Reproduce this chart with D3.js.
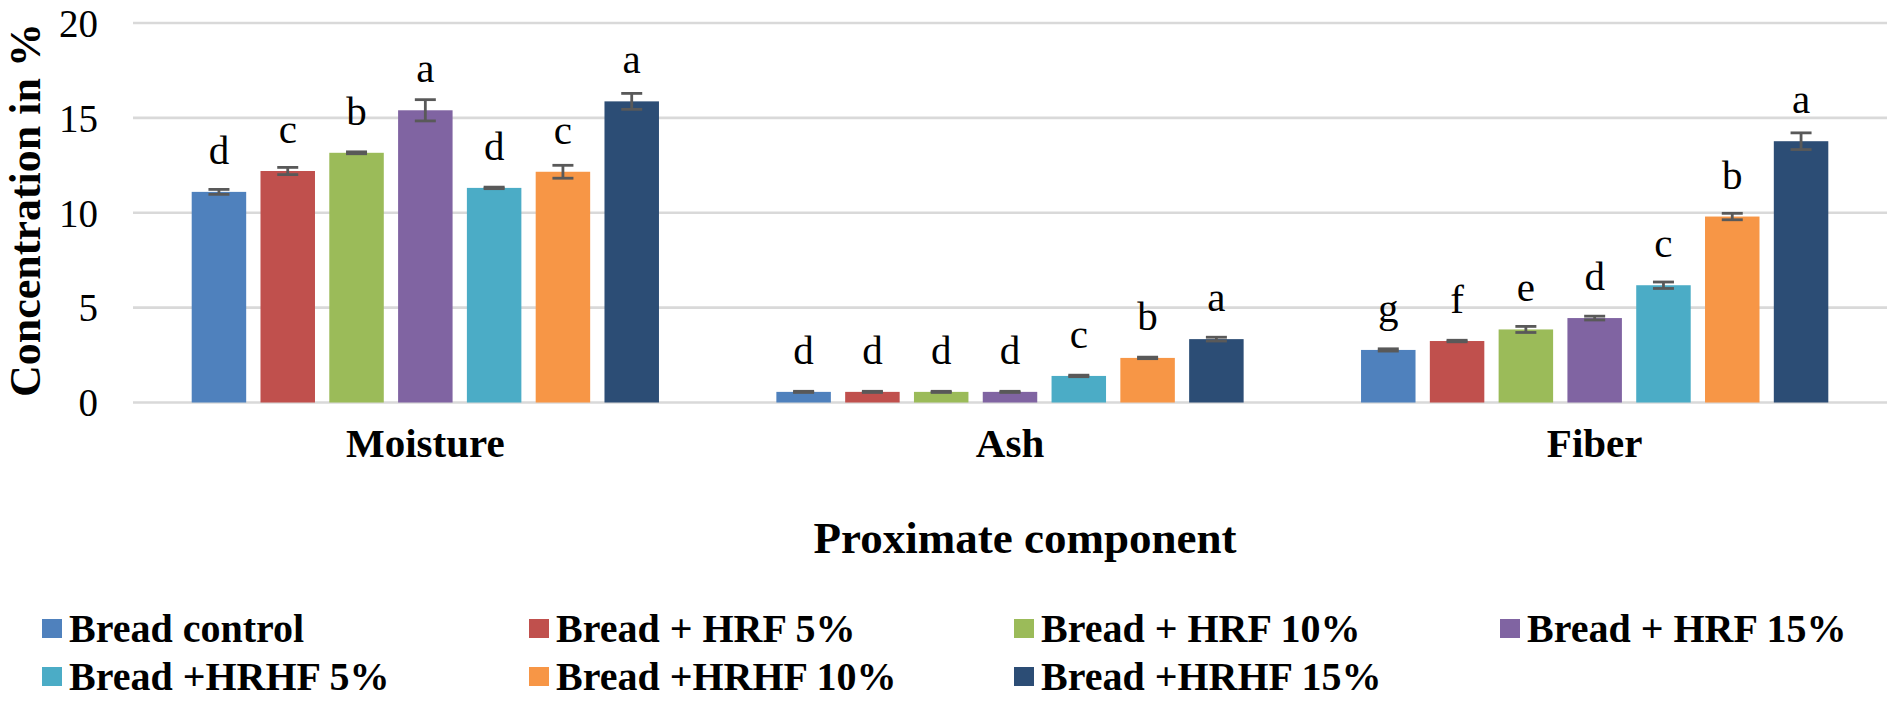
<!DOCTYPE html>
<html>
<head>
<meta charset="utf-8">
<script src="https://cdn.jsdelivr.net/npm/d3@7"></script>
<style>
  html, body { margin: 0; padding: 0; background: #fff; }
  svg { display: block; }
  text { font-family: "Liberation Serif", "Times New Roman", serif; fill: #000; }
</style>
</head>
<body>
<svg id="chart" width="1892" height="704"></svg>
<script>
// ---- data ----
const categories = ["Moisture", "Ash", "Fiber"];
const seriesNames = ["Bread control", "Bread + HRF 5%", "Bread + HRF 10%", "Bread + HRF 15%",
                     "Bread +HRHF 5%", "Bread +HRHF 10%", "Bread +HRHF 15%"];
const seriesColors = ["#4F81BD", "#C0504D", "#9BBB59", "#8064A2", "#4BACC6", "#F79646", "#2C4D75"];

const moistureValues = [11.10, 12.20, 13.16, 15.40, 11.31, 12.16, 15.87];
const ashValues      = [0.56, 0.56, 0.56, 0.56, 1.40, 2.35, 3.34];
const fiberValues    = [2.77, 3.24, 3.85, 4.45, 6.18, 9.80, 13.77];

const moistureErrors = [0.13, 0.19, 0.05, 0.56, 0.04, 0.34, 0.42];
const ashErrors      = [0.03, 0.03, 0.03, 0.03, 0.04, 0.04, 0.10];
const fiberErrors    = [0.06, 0.04, 0.16, 0.10, 0.17, 0.17, 0.44];

const moistureLetters = ["d", "c", "b", "a", "d", "c", "a"];
const ashLetters      = ["d", "d", "d", "d", "c", "b", "a"];
const fiberLetters    = ["g", "f", "e", "d", "c", "b", "a"];

const yTicks = [0, 5, 10, 15, 20];
const yTitle = "Concentration in %";
const xTitle = "Proximate component";

// ---- build table ----
const valuesByCat = [moistureValues, ashValues, fiberValues];
const errorsByCat = [moistureErrors, ashErrors, fiberErrors];
const lettersByCat = [moistureLetters, ashLetters, fiberLetters];
const table = [];
categories.forEach((c, ci) => {
  seriesNames.forEach((s, si) => {
    table.push({ cat: c, series: s, si: si, value: valuesByCat[ci][si],
                 err: errorsByCat[ci][si], letter: lettersByCat[ci][si] });
  });
});

// ---- layout ----
const svg = d3.select("#chart");
const plotLeft = 133, plotRight = 1887, plotTop = 23, plotBottom = 402.5;

const x0 = d3.scaleBand().domain(categories).range([plotLeft, plotRight])
  .paddingInner(0.2008).paddingOuter(0.1004);
const x1 = d3.scaleBand().domain(seriesNames).range([0, x0.bandwidth()])
  .paddingInner(0.208).paddingOuter(0);
const y = d3.scaleLinear().domain([0, 20]).range([plotBottom, plotTop]);
const color = d3.scaleOrdinal().domain(seriesNames).range(seriesColors);

// gridlines
svg.append("g").selectAll("line").data(yTicks).join("line")
  .attr("x1", plotLeft).attr("x2", plotRight)
  .attr("y1", d => y(d)).attr("y2", d => y(d))
  .attr("stroke", "#D9D9D9").attr("stroke-width", 2.7);

// y axis labels
const yAxis = d3.axisLeft(y).tickValues(yTicks).tickSize(0).tickPadding(35).tickFormat(d3.format("d"));
const yg = svg.append("g").attr("transform", `translate(${plotLeft},0)`).call(yAxis);
yg.select(".domain").remove();
yg.selectAll("text").style("font-family", "'Liberation Serif', serif").style("font-size", "39px")
  .attr("dy", "0.34em").attr("fill", "#000");

// bars
const bars = svg.append("g");
bars.selectAll("rect").data(table).join("rect")
  .attr("x", d => x0(d.cat) + x1(d.series))
  .attr("width", x1.bandwidth())
  .attr("y", d => y(d.value))
  .attr("height", d => y(0) - y(d.value))
  .attr("fill", d => color(d.series));

// error bars
const eg = svg.append("g").attr("stroke", "#595959").attr("stroke-width", 2.8);
const capHalf = 10.5;
table.forEach(d => {
  const cx = x0(d.cat) + x1(d.series) + x1.bandwidth() / 2;
  const yHi = y(d.value + d.err), yLo = y(d.value - d.err);
  eg.append("line").attr("x1", cx).attr("x2", cx).attr("y1", yHi).attr("y2", yLo);
  eg.append("line").attr("x1", cx - capHalf).attr("x2", cx + capHalf).attr("y1", yHi).attr("y2", yHi);
  eg.append("line").attr("x1", cx - capHalf).attr("x2", cx + capHalf).attr("y1", yLo).attr("y2", yLo);
});

// significance letters
svg.append("g").selectAll("text").data(table).join("text")
  .attr("x", d => x0(d.cat) + x1(d.series) + x1.bandwidth() / 2)
  .attr("y", d => y(d.value) - 28)
  .attr("text-anchor", "middle")
  .style("font-size", "41px")
  .text(d => d.letter);

// category labels
svg.append("g").selectAll("text").data(categories).join("text")
  .attr("x", d => x0(d) + x0.bandwidth() / 2)
  .attr("y", 457)
  .attr("text-anchor", "middle")
  .style("font-size", "41px").style("font-weight", "bold")
  .text(d => d);

// axis titles
svg.append("text")
  .attr("transform", "translate(40,210) rotate(-90)")
  .attr("text-anchor", "middle")
  .style("font-size", "44px").style("font-weight", "bold")
  .text(yTitle);

svg.append("text")
  .attr("x", 1025).attr("y", 553)
  .attr("text-anchor", "middle")
  .style("font-size", "45px").style("font-weight", "bold")
  .text(xTitle);

// legend
const legendCols = [42, 529, 1014, 1500];
const legendRows = [642, 690];
const lg = svg.append("g");
seriesNames.forEach((s, i) => {
  const cx = legendCols[i % 4], by = legendRows[Math.floor(i / 4)];
  lg.append("rect").attr("x", cx).attr("y", by - 23).attr("width", 20).attr("height", 19)
    .attr("fill", color(s));
  lg.append("text").attr("x", cx + 27).attr("y", by)
    .style("font-size", "40px").style("font-weight", "bold").text(s);
});
</script>
</body>
</html>
